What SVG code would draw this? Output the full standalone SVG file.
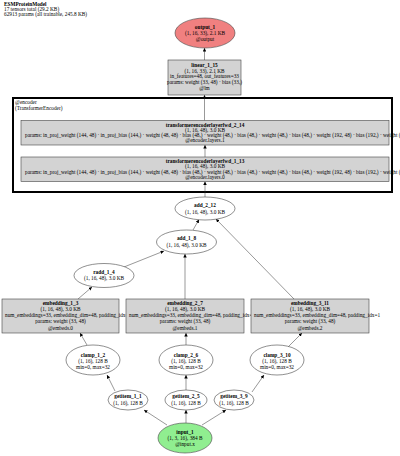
<svg xmlns="http://www.w3.org/2000/svg" width="400" height="456" viewBox="0 0 400 456">
<style>
text{font-family:"Liberation Serif","Times New Roman",serif;font-size:5.3px;fill:#000}
.b{font-weight:bold}
.m{text-anchor:middle}
.box{fill:#d3d3d3;stroke:#444;stroke-width:0.6}
.ell{fill:#fff;stroke:#444;stroke-width:0.6}
.e line{stroke:#333;stroke-width:0.5;marker-end:url(#ah)}
</style>
<defs>
<marker id="ah" viewBox="0 0 10 10" refX="10" refY="5" markerWidth="3.5" markerHeight="3.5" markerUnits="userSpaceOnUse" orient="auto">
<path d="M0,0 L10,5 L0,10 z" fill="#000"/>
</marker>
</defs>
<rect width="400" height="456" fill="#fff"/>
<g id="header">
<text x="4" y="6" class="b">ESMProteinModel</text>
<text x="4" y="11.2">17 tensors total (29.2 KB)</text>
<text x="4" y="16.4">62913 params (all trainable, 245.8 KB)</text>
</g>
<g id="cluster_encoder">
<rect x="13" y="98" width="379" height="94" fill="#fff" stroke="#000" stroke-width="2"/>
<text x="15" y="104">@encoder</text>
<text x="15" y="109.5">(TransformerEncoder)</text>
</g>
<g id="edges" class="e">
<line x1="167" y1="425" x2="144" y2="410"/>
<line x1="186" y1="423" x2="186" y2="410"/>
<line x1="202" y1="425" x2="226" y2="410"/>
<line x1="115" y1="391" x2="107" y2="375"/>
<line x1="186" y1="390" x2="186" y2="375"/>
<line x1="252" y1="392" x2="264" y2="375"/>
<line x1="87" y1="345" x2="80" y2="333"/>
<line x1="186" y1="345" x2="186" y2="333"/>
<line x1="288" y1="347" x2="302" y2="333"/>
<line x1="78" y1="299" x2="92" y2="287"/>
<line x1="124" y1="267" x2="164" y2="251"/>
<line x1="185" y1="299" x2="185" y2="254"/>
<line x1="193" y1="230" x2="199" y2="219.5"/>
<line x1="294" y1="299" x2="216" y2="219"/>
<line x1="205" y1="197" x2="205" y2="181.5"/>
<line x1="205" y1="157" x2="205" y2="145"/>
<line x1="204.5" y1="120.5" x2="204.5" y2="95"/>
<line x1="204.5" y1="60" x2="204.5" y2="48"/>
</g>
<g id="output_1">
<ellipse cx="205" cy="33" rx="30" ry="15" fill="#f08080" stroke="#444" stroke-width="0.6"/>
<text x="205" y="28.5" class="m b">output_1</text>
<text x="205" y="34.8" class="m">(1, 16, 33), 2.1 KB</text>
<text x="205" y="41.1" class="m">@output</text>
</g>
<g id="linear_1_15">
<rect x="168" y="60" width="73" height="35" class="box"/>
<text x="204.5" y="66.7" class="m b">linear_1_15</text>
<text x="204.5" y="72.5" class="m">(1, 16, 33), 2.1 KB</text>
<text x="204.5" y="78.3" class="m">in_features=48, out_features=33</text>
<text x="204.5" y="84.1" class="m">params: weight (33, 48) · bias (33,)</text>
<text x="204.5" y="89.9" class="m">@lm</text>
</g>
<g id="transformerencoderlayerfwd_2_14">
<rect x="21" y="120.5" width="368" height="24.5" class="box"/>
<text x="205" y="126.7" class="m b">transformerencoderlayerfwd_2_14</text>
<text x="205" y="131.9" class="m">(1, 16, 48), 3.0 KB</text>
<text x="25" y="137.1">params: in_proj_weight (144, 48) · in_proj_bias (144,) · weight (48, 48) · bias (48,) · weight (48,) · bias (48,) · weight (48,) · bias (48,) · weight (192, 48) · bias (192,) · weight (48, 192) · bias (48,)</text>
<text x="205" y="142.3" class="m">@encoder.layers.1</text>
</g>
<g id="transformerencoderlayerfwd_1_13">
<rect x="21" y="157" width="368" height="24.5" class="box"/>
<text x="205" y="163.2" class="m b">transformerencoderlayerfwd_1_13</text>
<text x="205" y="168.4" class="m">(1, 16, 48), 3.0 KB</text>
<text x="25" y="173.6">params: in_proj_weight (144, 48) · in_proj_bias (144,) · weight (48, 48) · bias (48,) · weight (48,) · bias (48,) · weight (48,) · bias (48,) · weight (192, 48) · bias (192,) · weight (48, 192) · bias (48,)</text>
<text x="205" y="178.8" class="m">@encoder.layers.0</text>
</g>
<g id="add_2_12">
<ellipse cx="205" cy="208.5" rx="30" ry="11.5" class="ell"/>
<text x="205" y="207.3" class="m b">add_2_12</text>
<text x="205" y="213.5" class="m">(1, 16, 48), 3.0 KB</text>
</g>
<g id="add_1_8">
<ellipse cx="186.5" cy="242" rx="30" ry="12" class="ell"/>
<text x="186.5" y="240.3" class="m b">add_1_8</text>
<text x="186.5" y="246.5" class="m">(1, 16, 48), 3.0 KB</text>
</g>
<g id="radd_1_4">
<ellipse cx="104" cy="275.5" rx="30" ry="12" class="ell"/>
<text x="104" y="273.8" class="m b">radd_1_4</text>
<text x="104" y="280" class="m">(1, 16, 48), 3.0 KB</text>
</g>
<g id="embedding_1_3">
<rect x="2" y="299" width="117" height="34" class="box"/>
<text x="60.5" y="304.8" class="m b">embedding_1_3</text>
<text x="60.5" y="311" class="m">(1, 16, 48), 3.0 KB</text>
<text x="5" y="317.2">num_embeddings=33, embedding_dim=48, padding_idx=1</text>
<text x="60.5" y="323.4" class="m">params: weight (33, 48)</text>
<text x="60.5" y="329.6" class="m">@embeds.0</text>
</g>
<g id="embedding_2_7">
<rect x="126" y="299" width="118" height="34" class="box"/>
<text x="185" y="304.8" class="m b">embedding_2_7</text>
<text x="185" y="311" class="m">(1, 16, 48), 3.0 KB</text>
<text x="129" y="317.2">num_embeddings=33, embedding_dim=48, padding_idx=1</text>
<text x="185" y="323.4" class="m">params: weight (33, 48)</text>
<text x="185" y="329.6" class="m">@embeds.1</text>
</g>
<g id="embedding_3_11">
<rect x="251" y="299" width="118" height="34" class="box"/>
<text x="310" y="304.8" class="m b">embedding_3_11</text>
<text x="310" y="311" class="m">(1, 16, 48), 3.0 KB</text>
<text x="254" y="317.2">num_embeddings=33, embedding_dim=48, padding_idx=1</text>
<text x="310" y="323.4" class="m">params: weight (33, 48)</text>
<text x="310" y="329.6" class="m">@embeds.2</text>
</g>
<g id="clamp_1_2">
<ellipse cx="93" cy="360" rx="27" ry="15" class="ell"/>
<text x="93" y="356.5" class="m b">clamp_1_2</text>
<text x="93" y="362.8" class="m">(1, 16), 128 B</text>
<text x="93" y="369.1" class="m">min=0, max=32</text>
</g>
<g id="clamp_2_6">
<ellipse cx="186" cy="360" rx="27" ry="15" class="ell"/>
<text x="186" y="356.5" class="m b">clamp_2_6</text>
<text x="186" y="362.8" class="m">(1, 16), 128 B</text>
<text x="186" y="369.1" class="m">min=0, max=32</text>
</g>
<g id="clamp_3_10">
<ellipse cx="277" cy="360" rx="27" ry="15" class="ell"/>
<text x="277" y="356.5" class="m b">clamp_3_10</text>
<text x="277" y="362.8" class="m">(1, 16), 128 B</text>
<text x="277" y="369.1" class="m">min=0, max=32</text>
</g>
<g id="getitem_1_1">
<ellipse cx="128" cy="400" rx="20" ry="10" class="ell"/>
<text x="128" y="398.3" class="m b">getitem_1_1</text>
<text x="128" y="404.5" class="m">(1, 16), 128 B</text>
</g>
<g id="getitem_2_5">
<ellipse cx="186" cy="400" rx="21" ry="10" class="ell"/>
<text x="186" y="398.3" class="m b">getitem_2_5</text>
<text x="186" y="404.5" class="m">(1, 16), 128 B</text>
</g>
<g id="getitem_3_9">
<ellipse cx="234" cy="400" rx="20" ry="10" class="ell"/>
<text x="234" y="398.3" class="m b">getitem_3_9</text>
<text x="234" y="404.5" class="m">(1, 16), 128 B</text>
</g>
<g id="input_1">
<ellipse cx="185" cy="438" rx="27" ry="15" fill="#90ee90" stroke="#444" stroke-width="0.6"/>
<text x="185" y="433.5" class="m b">input_1</text>
<text x="185" y="439.8" class="m">(1, 3, 16), 384 B</text>
<text x="185" y="446.1" class="m">@input.x</text>
</g>
</svg>
